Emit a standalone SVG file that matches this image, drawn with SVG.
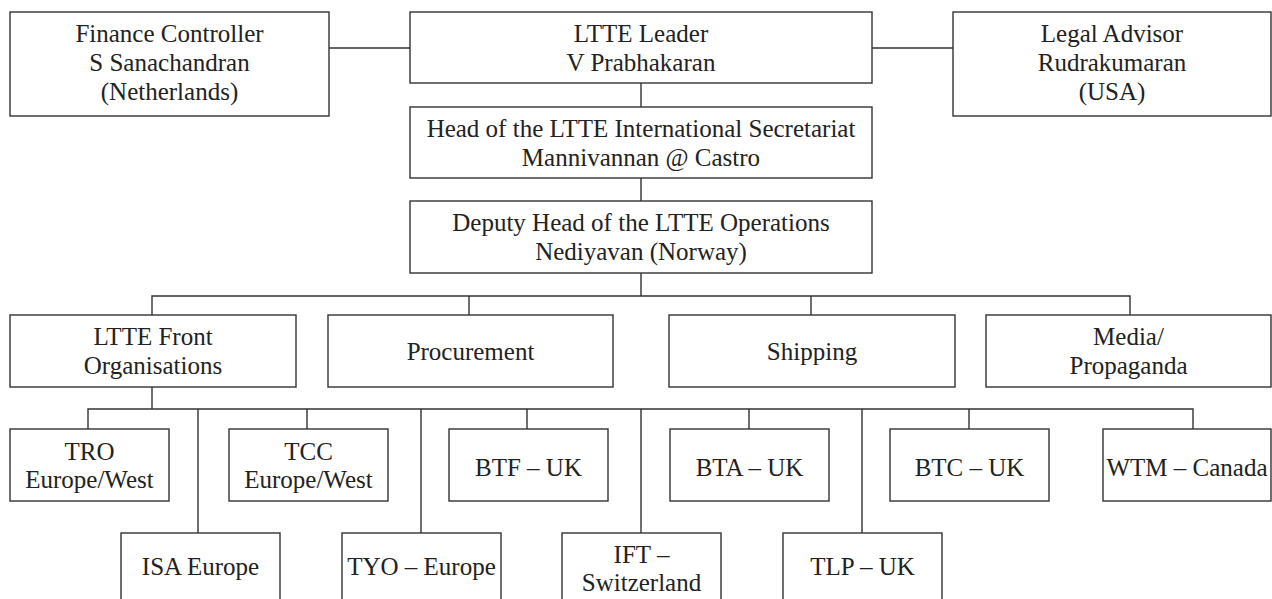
<svg xmlns="http://www.w3.org/2000/svg" width="1272" height="599" viewBox="0 0 1272 599">
<style>
.box{fill:#fff;stroke:#333;stroke-width:1.4}
.t{font-family:"Liberation Serif","Times New Roman",serif;font-size:25px;fill:#222;text-anchor:middle}
.c{fill:none;stroke:#333;stroke-width:1.4}
</style>
<rect width="1272" height="599" fill="#fff"/>
<g id="connectors">
<path class="c" d="M329 48H410M872 48H953M641 83V107M641 178V201M641 273V296"/>
<path class="c" d="M152 315V296H1130V315M469 296V315M811 296V315"/>
<path class="c" d="M152 387V409M88 429V409H1193V429M307 409V429M527 409V429M749 409V429M969 409V429"/>
<path class="c" d="M198 409V533M421 409V533M641 409V533M862 409V533"/>
</g>
<g id="finance"><rect class="box" x="10" y="12" width="319" height="104"/><text class="t" x="169.5" y="42">Finance Controller</text><text class="t" x="169.5" y="71">S Sanachandran</text><text class="t" x="169.5" y="100">(Netherlands)</text></g>
<g id="leader"><rect class="box" x="410" y="12" width="462" height="71"/><text class="t" x="641" y="42">LTTE Leader</text><text class="t" x="641" y="71">V Prabhakaran</text></g>
<g id="legal"><rect class="box" x="953" y="12" width="318" height="104"/><text class="t" x="1112" y="42">Legal Advisor</text><text class="t" x="1112" y="71">Rudrakumaran</text><text class="t" x="1112" y="100">(USA)</text></g>
<g id="head"><rect class="box" x="410" y="107" width="462" height="71"/><text class="t" x="641" y="137">Head of the LTTE International Secretariat</text><text class="t" x="641" y="166">Mannivannan @ Castro</text></g>
<g id="deputy"><rect class="box" x="410" y="201" width="462" height="72"/><text class="t" x="641" y="231">Deputy Head of the LTTE Operations</text><text class="t" x="641" y="260">Nediyavan (Norway)</text></g>
<g id="front"><rect class="box" x="10" y="315" width="286" height="72"/><text class="t" x="153" y="345">LTTE Front</text><text class="t" x="153" y="374">Organisations</text></g>
<g id="procurement"><rect class="box" x="328" y="315" width="285" height="72"/><text class="t" x="470.5" y="360">Procurement</text></g>
<g id="shipping"><rect class="box" x="669" y="315" width="286" height="72"/><text class="t" x="812" y="360">Shipping</text></g>
<g id="media"><rect class="box" x="986" y="315" width="285" height="72"/><text class="t" x="1128.5" y="345">Media/</text><text class="t" x="1128.5" y="374">Propaganda</text></g>
<g id="tro"><rect class="box" x="10" y="429" width="159" height="72"/><text class="t" x="89.5" y="460">TRO</text><text class="t" x="89.5" y="488">Europe/West</text></g>
<g id="tcc"><rect class="box" x="229" y="429" width="159" height="72"/><text class="t" x="308.5" y="460">TCC</text><text class="t" x="308.5" y="488">Europe/West</text></g>
<g id="btf"><rect class="box" x="449" y="429" width="159" height="72"/><text class="t" x="528.5" y="476">BTF – UK</text></g>
<g id="bta"><rect class="box" x="670" y="429" width="159" height="72"/><text class="t" x="749.5" y="476">BTA – UK</text></g>
<g id="btc"><rect class="box" x="890" y="429" width="159" height="72"/><text class="t" x="969.5" y="476">BTC – UK</text></g>
<g id="wtm"><rect class="box" x="1103" y="429" width="168" height="72"/><text class="t" x="1187" y="476">WTM – Canada</text></g>
<g id="isa"><rect class="box" x="121" y="533" width="159" height="72"/><text class="t" x="200.5" y="575">ISA Europe</text></g>
<g id="tyo"><rect class="box" x="342" y="533" width="159" height="72"/><text class="t" x="421.5" y="575">TYO – Europe</text></g>
<g id="ift"><rect class="box" x="562" y="533" width="159" height="72"/><text class="t" x="641.5" y="563">IFT –</text><text class="t" x="641.5" y="591">Switzerland</text></g>
<g id="tlp"><rect class="box" x="783" y="533" width="159" height="72"/><text class="t" x="862.5" y="575">TLP – UK</text></g>
</svg>
